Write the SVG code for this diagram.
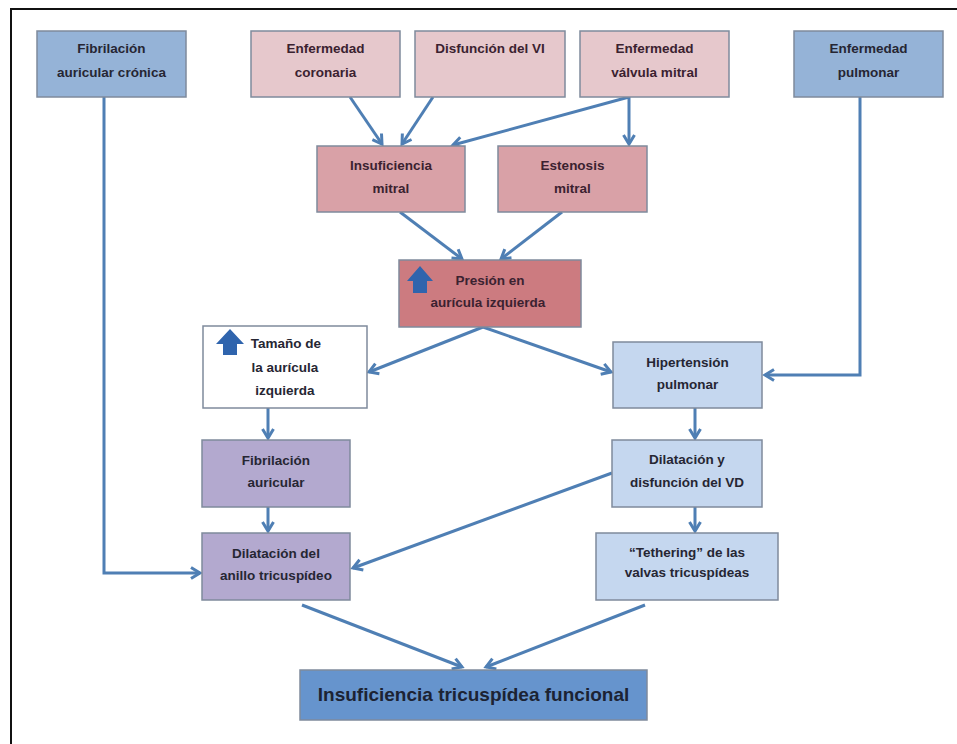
<svg xmlns="http://www.w3.org/2000/svg" width="957" height="744" viewBox="0 0 957 744">
<defs>
<style>
.box{stroke:#7f8a9c;stroke-width:1.5}
.blue{fill:#95b3d7}
.pink1{fill:#e6c8cc}
.pink2{fill:#d9a1a7}
.pink3{fill:#cc7b80}
.white{fill:#ffffff}
.lav{fill:#b3a9cf}
.lblue{fill:#c5d7ef}
.main{fill:#6694cd}
text{font-family:"Liberation Sans",Arial,sans-serif;font-weight:bold;font-size:13.5px;fill:#262633;text-anchor:middle}
.pk text{fill:#3b2230}
.big{font-size:19px;fill:#1c2333}
.conn{fill:none;stroke:#4f7fb4;stroke-width:3;marker-end:url(#ah)}
.icon{fill:#2f64ad}
</style>
<marker id="ah" markerUnits="userSpaceOnUse" markerWidth="16" markerHeight="16" refX="12" refY="8" orient="auto">
<path d="M3,2.5 L12,8 L3,13.5" fill="none" stroke="#4f7fb4" stroke-width="3"/>
</marker>
</defs>
<rect x="0" y="0" width="957" height="744" fill="#ffffff"/>
<path d="M11,744 L11,9 L957,9" fill="none" stroke="#111" stroke-width="2"/>

<g id="connectors">
<path class="conn" d="M104,97 L104,573 L200,573"/>
<path class="conn" d="M350,97 L382,144"/>
<path class="conn" d="M433,97 L402,144"/>
<path class="conn" d="M629,97 L453,145"/>
<path class="conn" d="M629,97 L629,144"/>
<path class="conn" d="M400,212 L462,259"/>
<path class="conn" d="M562,212 L501,259"/>
<path class="conn" d="M483,327 L369,372"/>
<path class="conn" d="M483,327 L611,372"/>
<path class="conn" d="M860,97 L860,375 L765,375"/>
<path class="conn" d="M268,408 L268,438"/>
<path class="conn" d="M268,507 L268,531"/>
<path class="conn" d="M695,408 L695,438"/>
<path class="conn" d="M695,507 L695,531"/>
<path class="conn" d="M612,473 L353,568"/>
<path class="conn" d="M302,605 L462,667"/>
<path class="conn" d="M645,605 L486,667"/>
</g>

<g id="n_fib_cronica">
<rect class="box blue" x="37" y="31" width="149" height="66"/>
<text x="111.5" y="53">Fibrilación</text>
<text x="111.5" y="77">auricular crónica</text>
</g>
<g id="n_enf_coronaria" class="pk">
<rect class="box pink1" x="251" y="31" width="149" height="66"/>
<text x="325.5" y="53">Enfermedad</text>
<text x="325.5" y="77">coronaria</text>
</g>
<g id="n_disf_vi" class="pk">
<rect class="box pink1" x="415" y="31" width="150" height="66"/>
<text x="490" y="53">Disfunción del VI</text>
</g>
<g id="n_enf_valvula" class="pk">
<rect class="box pink1" x="580" y="31" width="149" height="66"/>
<text x="654.5" y="53">Enfermedad</text>
<text x="654.5" y="77">válvula mitral</text>
</g>
<g id="n_enf_pulmonar">
<rect class="box blue" x="794" y="31" width="149" height="66"/>
<text x="868.5" y="53">Enfermedad</text>
<text x="868.5" y="77">pulmonar</text>
</g>
<g id="n_insuf_mitral" class="pk">
<rect class="box pink2" x="317" y="146" width="148" height="66"/>
<text x="391" y="170">Insuficiencia</text>
<text x="391" y="193">mitral</text>
</g>
<g id="n_estenosis" class="pk">
<rect class="box pink2" x="498" y="146" width="149" height="66"/>
<text x="572.5" y="170">Estenosis</text>
<text x="572.5" y="193">mitral</text>
</g>
<g id="n_presion" class="pk">
<rect class="box pink3" x="399" y="260" width="182" height="67"/>
<path class="icon" d="M420,266 L433,281 L427,281 L427,293 L413,293 L413,281 L407,281 Z"/>
<text x="490" y="285">Presión en</text>
<text x="488" y="307">aurícula izquierda</text>
</g>
<g id="n_tamano">
<rect class="box white" x="203" y="326" width="164" height="82"/>
<path class="icon" d="M230,329 L244,344 L237,344 L237,355 L223,355 L223,344 L216,344 Z"/>
<text x="286" y="348">Tamaño de</text>
<text x="285" y="372">la aurícula</text>
<text x="285" y="395">izquierda</text>
</g>
<g id="n_hipertension">
<rect class="box lblue" x="613" y="342" width="149" height="66"/>
<text x="687.5" y="367">Hipertensión</text>
<text x="687.5" y="389">pulmonar</text>
</g>
<g id="n_fib_auricular">
<rect class="box lav" x="202" y="440" width="148" height="67"/>
<text x="276" y="465">Fibrilación</text>
<text x="276" y="487">auricular</text>
</g>
<g id="n_dilat_vd">
<rect class="box lblue" x="612" y="440" width="150" height="67"/>
<text x="687" y="464">Dilatación y</text>
<text x="687" y="487">disfunción del VD</text>
</g>
<g id="n_dilat_anillo">
<rect class="box lav" x="202" y="533" width="148" height="67"/>
<text x="276" y="558">Dilatación del</text>
<text x="276" y="580">anillo tricuspídeo</text>
</g>
<g id="n_tethering">
<rect class="box lblue" x="596" y="533" width="182" height="67"/>
<text x="687" y="557">“Tethering” de las</text>
<text x="687" y="577">valvas tricuspídeas</text>
</g>
<g id="n_insuf_tric">
<rect class="box main" x="300" y="670" width="347" height="50"/>
<text class="big" x="473.5" y="701">Insuficiencia tricuspídea funcional</text>
</g>
</svg>
